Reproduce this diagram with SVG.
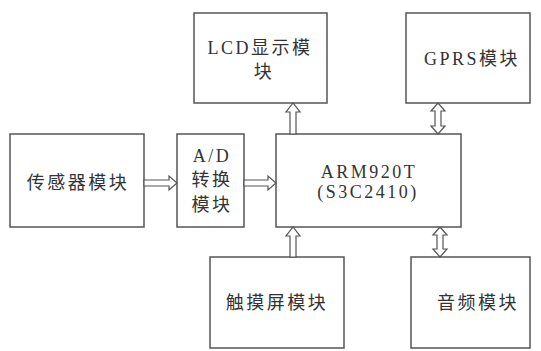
<svg xmlns="http://www.w3.org/2000/svg" width="541" height="351" viewBox="0 0 541 351">
<style>
.box{fill:#fff;stroke:#555;stroke-width:1.5}
.arr{fill:#fff;stroke:#555;stroke-width:1.2;stroke-linejoin:miter}
text{font-family:"Liberation Serif","Noto Sans CJK SC",serif;font-size:18px;fill:#333;text-anchor:middle;letter-spacing:2.5px}
</style>
<rect width="541" height="351" fill="#fff"/>
<g id="lcd"><rect class="box" x="194" y="13" width="133" height="90"/><text x="260" y="54">LCD显示模</text><text x="264" y="78">块</text></g>
<g id="gprs"><rect class="box" x="406" y="13" width="124" height="90"/><text x="472" y="65">GPRS模块</text></g>
<g id="sensor"><rect class="box" x="10" y="134" width="134" height="93"/><text x="78" y="189">传感器模块</text></g>
<g id="ad"><rect class="box" x="177" y="134" width="67" height="93"/><text x="212" y="162">A/D</text><text x="212" y="186">转换</text><text x="212" y="211">模块</text></g>
<g id="arm"><rect class="box" x="276" y="134" width="185" height="93"/><text x="369" y="178">ARM920T</text><text x="368" y="198">(S3C2410)</text></g>
<g id="touch"><rect class="box" x="210" y="257" width="134" height="91"/><text x="277" y="309">触摸屏模块</text></g>
<g id="audio"><rect class="box" x="411" y="257" width="119" height="91"/><text x="478" y="309">音频模块</text></g>
<g id="connectors">
<path class="arr" d="M144,180 H169 V176 L177,183 L169,190 V186 H144 Z"/>
<path class="arr" d="M244,180 H268 V176 L276,183 L268,190 V186 H244 Z"/>
<path class="arr" d="M290,134 V112 H286 L293,103 L300,112 H296 V134 Z"/>
<path class="arr" d="M438,103 L445,111 H441 V126 H445 L438,134 L431,126 H435 V111 H431 Z"/>
<path class="arr" d="M290,257 V236 H286 L293,227 L300,236 H296 V257 Z"/>
<path class="arr" d="M440,227 L447,235 H443 V249 H447 L440,257 L433,249 H437 V235 H433 Z"/>
</g>
</svg>
